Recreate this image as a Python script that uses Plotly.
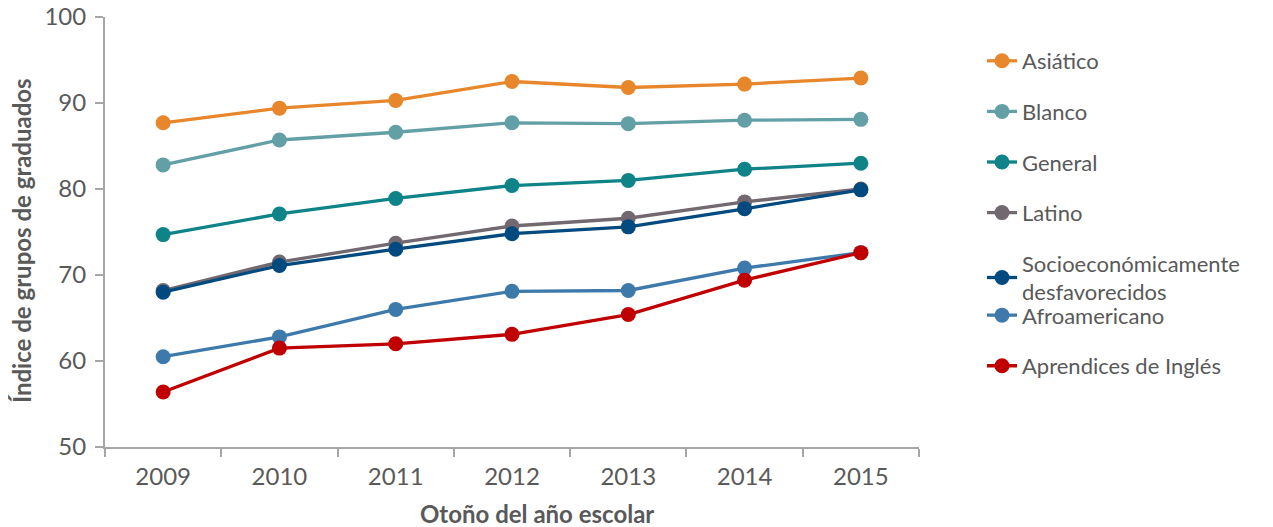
import plotly.graph_objects as go

years = ["2009", "2010", "2011", "2012", "2013", "2014", "2015"]

asiatico = [87.7, 89.4, 90.3, 92.5, 91.8, 92.2, 92.9]
blanco = [82.8, 85.7, 86.6, 87.7, 87.6, 88.0, 88.1]
general = [74.7, 77.1, 78.9, 80.4, 81.0, 82.3, 83.0]
latino = [68.2, 71.5, 73.7, 75.7, 76.6, 78.5, 80.0]
socio = [68.0, 71.1, 73.0, 74.8, 75.6, 77.7, 79.9]
afro = [60.5, 62.8, 66.0, 68.1, 68.2, 70.8, 72.6]
aprendices = [56.4, 61.5, 62.0, 63.1, 65.4, 69.4, 72.6]

series_names = ["Asiático", "Blanco", "General", "Latino",
                "Socioeconómicamente<br>desfavorecidos", "Afroamericano",
                "Aprendices de Inglés"]
series_values = [asiatico, blanco, general, latino, socio, afro, aprendices]
colors = ["#E8862B", "#63A0A6", "#0E8388", "#726870", "#004A80", "#3D7AAB", "#C00000"]
legend_ids = ["legend", "legend", "legend", "legend", "legend", "legend2", "legend2"]

x_title = "Otoño del año escolar"
y_title = "Índice de grupos de graduados"

text_color = "#595959"
axis_color = "#A6A6A6"
font_family = "Lato, 'Open Sans', sans-serif"

fig = go.Figure()
for i in range(len(series_names)):
    fig.add_trace(go.Scatter(
        x=years, y=series_values[i], name=series_names[i],
        mode="lines+markers",
        line=dict(color=colors[i], width=3.3),
        marker=dict(color=colors[i], size=15),
        legendgroup=str(i),
        legend=legend_ids[i],
    ))

legend_common = dict(
    xanchor="left", yanchor="top",
    traceorder="grouped", tracegroupgap=19,
    font=dict(size=22, color=text_color),
    bgcolor="rgba(0,0,0,0)",
)

fig.update_layout(
    width=1273, height=527,
    margin=dict(l=97, r=362, t=9, b=88, autoexpand=False),
    paper_bgcolor="white", plot_bgcolor="white",
    font=dict(family=font_family, size=22, color=text_color),
    legend=dict(x=1.0774, y=0.9465, **legend_common),
    legend2=dict(x=1.0774, y=0.355, **legend_common),
    xaxis=dict(
        type="category",
        range=[-0.5, 6.5],
        showline=True, linecolor=axis_color, linewidth=2,
        ticks="outside", tickson="boundaries", ticklen=8, tickcolor=axis_color, tickwidth=1.5,
        showgrid=False, automargin=False,
        ticklabelstandoff=7,
        tickfont=dict(size=24, color=text_color),
    ),
    yaxis=dict(
        range=[50, 100],
        dtick=10,
        showline=True, linecolor=axis_color, linewidth=2,
        ticks="outside", ticklen=8, tickcolor=axis_color, tickwidth=1.5,
        showgrid=False, zeroline=False, automargin=False,
        ticklabeloverflow="allow",
        ticklabelstandoff=4,
        tickfont=dict(size=24, color=text_color),
    ),
    annotations=[
        dict(text="<b>" + x_title + "</b>", xref="paper", yref="paper",
             x=0.5307, y=-0.1535, xanchor="center", yanchor="middle",
             showarrow=False, font=dict(size=24, color=text_color)),
        dict(text="<b>" + y_title + "</b>", xref="paper", yref="paper",
             x=-0.102, y=0.4814, xanchor="center", yanchor="middle",
             textangle=-90, showarrow=False, font=dict(size=24, color=text_color)),
    ],
)

fig.write_html("out.html")
